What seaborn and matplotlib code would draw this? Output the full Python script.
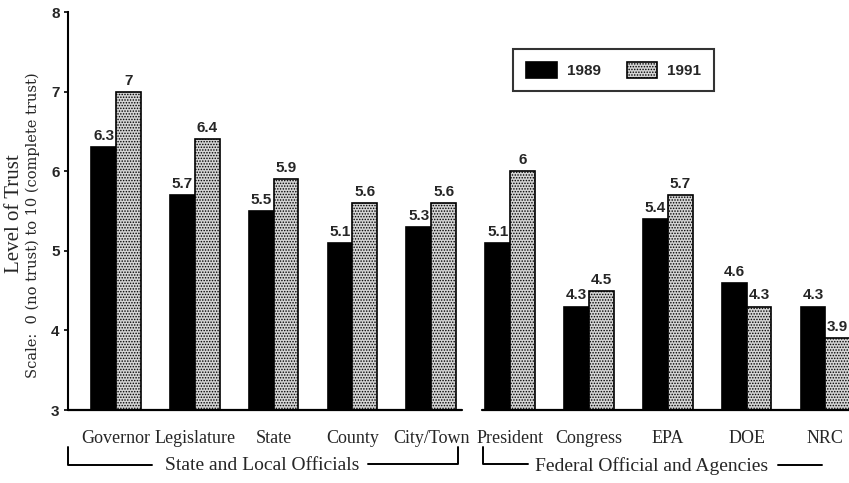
import numpy as np
import pandas as pd
import matplotlib.pyplot as plt
import seaborn as sns
from matplotlib.lines import Line2D

categories = ["Governor", "Legislature", "State", "County", "City/Town",
              "President", "Congress", "EPA", "DOE", "NRC"]
trust_1989 = [6.3, 5.7, 5.5, 5.1, 5.3, 5.1, 4.3, 5.4, 4.6, 4.3]
trust_1991 = [7, 6.4, 5.9, 5.6, 5.6, 6, 4.5, 5.7, 4.3, 3.9]
years = ["1989", "1991"]
y_ticks = [3, 4, 5, 6, 7, 8]

df = pd.DataFrame({
    "official": categories * 2,
    "year": [years[0]] * len(categories) + [years[1]] * len(categories),
    "trust": trust_1989 + trust_1991,
})

sns.set_style("white")
plt.rcParams["hatch.linewidth"] = 0.7
plt.rcParams["hatch.color"] = "#555555"

fig = plt.figure(figsize=(8.49, 4.83), dpi=100)
ax = fig.add_axes([0.080, 0.151, 0.920, 0.824])

sns.barplot(data=df, x="official", y="trust", hue="year", order=categories,
            hue_order=years, palette=["black", "#d4d4d4"], width=0.63,
            edgecolor="black", linewidth=1.2, saturation=1, ax=ax)

for p in ax.containers[1]:
    p.set_hatch("......")

for cont in ax.containers:
    ax.bar_label(cont, fmt=lambda v: f"{v:g}", padding=3,
                 fontsize=11, fontweight="bold", family="Liberation Sans")

ax.set_ylim(3, 8)
ax.set_xlim(-0.61, 9.30)
ax.set_yticks(y_ticks)
ax.set_xlabel("")
ax.set_ylabel("")

for side in ["top", "right", "bottom"]:
    ax.spines[side].set_visible(False)
ax.spines["left"].set_linewidth(1.5)
ax.spines["left"].set_color("black")

# broken baseline
ax.axhline(3, xmin=0, xmax=0.5045, color="black", lw=1.6, clip_on=False)
ax.axhline(3, xmin=0.530, xmax=1, color="black", lw=1.6, clip_on=False)

ax.tick_params(axis="y", left=True, length=3, width=1.2, color="black",
               labelsize=11, pad=3)
for t in ax.get_yticklabels():
    t.set_fontweight("bold")
    t.set_family("Liberation Sans")
ax.tick_params(axis="x", length=0, pad=14)
for t in ax.get_xticklabels():
    t.set_family("Liberation Serif")
    t.set_fontsize(13)

leg = ax.legend(ax.containers, years, loc="center", bbox_to_anchor=(0.699, 0.854),
                ncol=2, frameon=True, fancybox=False, handlelength=2.0,
                handleheight=1.25, handletextpad=0.65, columnspacing=1.7,
                borderpad=0.85, prop={"family": "Liberation Sans", "weight": "bold", "size": 11})
leg.get_frame().set_edgecolor("black")
leg.get_frame().set_linewidth(1.5)

# y-axis labels
fig.text(15 / 849, 1 - 214 / 483, "Level of Trust", rotation=90, ha="center",
         va="center", family="Liberation Serif", fontsize=15)
fig.text(33 / 849, 1 - 225 / 483, "Scale:  0 (no trust) to 10 (complete trust)",
         rotation=90, ha="center", va="center", family="DejaVu Serif", fontsize=10.5)

# group brackets
def px(x, y):
    return x / 849, 1 - y / 483

def bracket(points):
    xs, ys = zip(*[px(x, y) for x, y in points])
    fig.add_artist(Line2D(xs, ys, color="black", lw=1.4))

bracket([(68, 447), (68, 465), (152, 465)])
bracket([(368, 464), (458, 464), (458, 447)])
bracket([(483, 447), (483, 464), (528, 464)])
bracket([(778, 465), (822, 465)])

fig.text(*px(262, 465), "State and Local Officials", ha="center", va="center",
         family="Liberation Serif", fontsize=14)
fig.text(*px(652, 466), "Federal Official and Agencies", ha="center", va="center",
         family="Liberation Serif", fontsize=14)

plt.savefig("out.png", dpi=100)
